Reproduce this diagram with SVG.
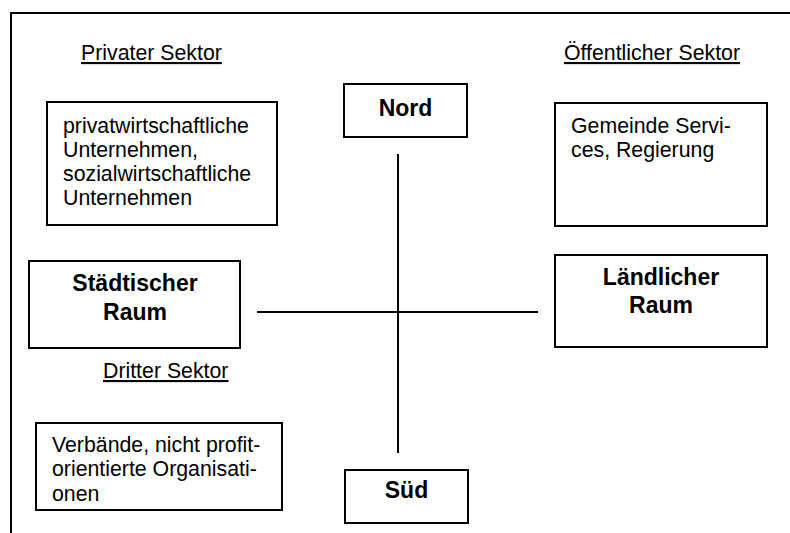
<svg xmlns="http://www.w3.org/2000/svg" width="790" height="533" viewBox="0 0 790 533">
<style>
.box{fill:#fff;stroke:#000;stroke-width:2}
.t{font-family:"Liberation Sans",Arial,sans-serif;font-size:21.3px;fill:#000}
.b{font-family:"Liberation Sans",Arial,sans-serif;font-size:23px;font-weight:bold;fill:#000;text-anchor:middle}
.u{text-decoration:underline}
.ln{stroke:#000;stroke-width:2;fill:none}
</style>
<rect width="790" height="533" fill="#fff"/>
<path id="frame" class="ln" d="M11,533 V13 H790"/>
<g id="labels">
<text class="t u" x="81" y="60">Privater Sektor</text>
<text class="t u" x="564" y="60">Öffentlicher Sektor</text>
<text class="t u" x="103" y="378">Dritter Sektor</text>
</g>
<g id="connectors">
<line class="ln" x1="398" y1="154" x2="398" y2="453"/>
<line class="ln" x1="257" y1="312" x2="538" y2="312"/>
</g>
<g id="privat">
<rect class="box" x="47" y="102" width="230" height="123"/>
<text class="t" x="63" y="133">privatwirtschaftliche</text>
<text class="t" x="63" y="157">Unternehmen,</text>
<text class="t" x="63" y="181">sozialwirtschaftliche</text>
<text class="t" x="63" y="205">Unternehmen</text>
</g>
<g id="oeffentlich">
<rect class="box" x="555" y="103" width="212" height="123"/>
<text class="t" x="571" y="133">Gemeinde Servi-</text>
<text class="t" x="571" y="157">ces, Regierung</text>
</g>
<g id="nord">
<rect class="box" x="344" y="84" width="123" height="53"/>
<text class="b" x="405.5" y="116">Nord</text>
</g>
<g id="sued">
<rect class="box" x="345" y="470" width="123" height="53"/>
<text class="b" x="406.5" y="497.5">Süd</text>
</g>
<g id="staedtisch">
<rect class="box" x="29" y="261" width="211" height="87"/>
<text class="b" x="135" y="291">Städtischer</text>
<text class="b" x="135" y="320">Raum</text>
</g>
<g id="laendlich">
<rect class="box" x="555" y="255" width="212" height="92"/>
<text class="b" x="661" y="284.5">Ländlicher</text>
<text class="b" x="661" y="312.5">Raum</text>
</g>
<g id="dritter">
<rect class="box" x="36" y="423" width="246" height="87"/>
<text class="t" x="52" y="451.5">Verbände, nicht profit-</text>
<text class="t" x="52" y="476">orientierte Organisati-</text>
<text class="t" x="52" y="500.5">onen</text>
</g>
</svg>
